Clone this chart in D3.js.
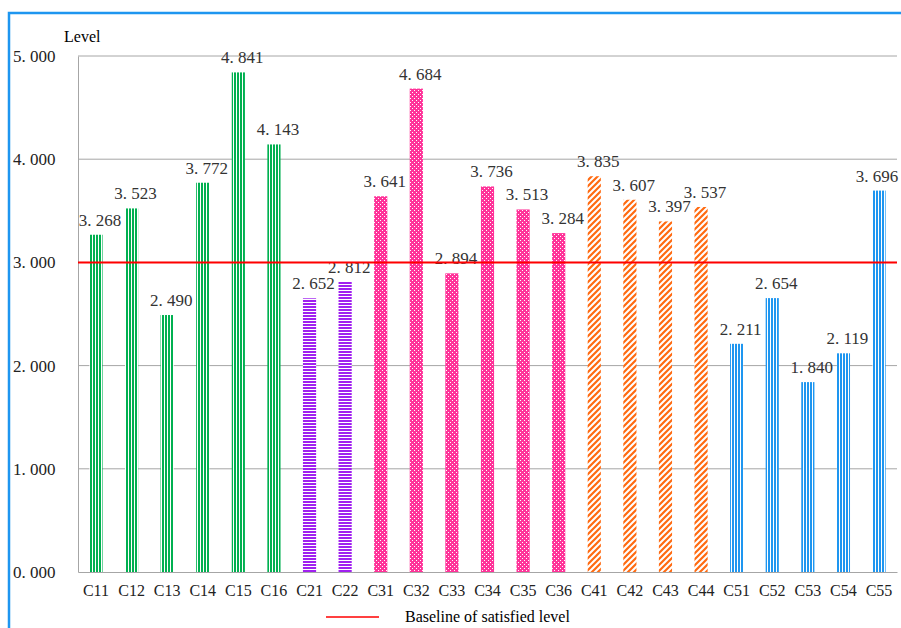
<!DOCTYPE html>
<html>
<head>
<meta charset="utf-8">
<script src="https://cdn.jsdelivr.net/npm/d3@7"></script>
<style>
  body { margin: 0; background: #fff; }
  svg { display: block; }
</style>
</head>
<body>
<svg id="chart" width="901" height="628"></svg>
<script>
// indicator codes and their levels
var categories = ["C11","C12","C13","C14","C15","C16","C21","C22","C31","C32","C33","C34","C35","C36","C41","C42","C43","C44","C51","C52","C53","C54","C55"];
var levels = [3.268,3.523,2.490,3.772,4.841,4.143,2.652,2.812,3.641,4.684,2.894,3.736,3.513,3.284,3.835,3.607,3.397,3.537,2.211,2.654,1.840,2.119,3.696];
var yTicks = [0,1,2,3,4,5];
var baseline = 3;
var legendLabel = "Baseline of satisfied level";

var width = 901, height = 628;
var margin = {left: 78, top: 56, right: 4, bottom: 56};

var svg = d3.select("#chart");
var defs = svg.append("defs");

// hatch pattern for each group, keyed by the first digit of the code
function addPattern(id, w, h, bg, draw) {
    var p = defs.append("pattern")
        .attr("id", id)
        .attr("patternUnits", "userSpaceOnUse")
        .attr("width", w).attr("height", h);
    p.append("rect").attr("width", w).attr("height", h).attr("fill", bg);
    draw(p);
}
addPattern("pat1", 3, 3, "#fff", function(p) {
    p.append("rect").attr("width", 2).attr("height", 3).attr("fill", "#00b050");
});
addPattern("pat2", 3, 3, "#fff", function(p) {
    p.append("rect").attr("width", 3).attr("height", 2).attr("fill", "#a020f0");
});
addPattern("pat3", 4, 4, "#ff3399", function(p) {
    p.append("rect").attr("x", 0).attr("y", 0).attr("width", 1).attr("height", 1).attr("fill", "#fff");
    p.append("rect").attr("x", 2).attr("y", 2).attr("width", 1).attr("height", 1).attr("fill", "#fff");
});
addPattern("pat4", 6, 6, "#fff", function(p) {
    p.append("path").attr("d", "M-1,7 L7,-1 M-4,4 L4,-4 M2,10 L10,2")
        .attr("stroke", "#ff6a10").attr("stroke-width", 2.2);
});
addPattern("pat5", 3, 3, "#fff", function(p) {
    p.append("rect").attr("width", 2).attr("height", 3).attr("fill", "#1e96f0");
});

// outer frame
svg.append("rect")
    .attr("x", 9).attr("y", 13)
    .attr("width", 920).attr("height", 640)
    .attr("fill", "none")
    .attr("stroke", "#1e96f0")
    .attr("stroke-width", 2.5);

var x = d3.scaleBand()
    .domain(categories)
    .range([margin.left, width - margin.right])
    .paddingInner(0.63)
    .paddingOuter(0.32);

var y = d3.scaleLinear()
    .domain([0, 5])
    .range([height - margin.bottom, margin.top]);

// gridlines
svg.append("g")
    .selectAll("line")
    .data(yTicks.filter(function(d) { return d > 0; }))
    .enter().append("line")
    .attr("x1", margin.left).attr("x2", width - margin.right)
    .attr("y1", function(d) { return y(d); })
    .attr("y2", function(d) { return y(d); })
    .attr("stroke", "#a6a6a6").attr("stroke-width", 1);

// axes
var yAxis = svg.append("g")
    .attr("transform", "translate(" + margin.left + ",0)")
    .call(d3.axisLeft(y).tickValues(yTicks).tickSize(0)
        .tickFormat(function(d) { return d3.format(".3f")(d).replace(".", ". "); }));
yAxis.select(".domain").attr("stroke", "#a6a6a6");
yAxis.selectAll("text")
    .attr("x", -65).attr("text-anchor", "start")
    .style("font-family", "'Liberation Serif'").style("font-size", "17px").attr("fill", "#222");

var xAxis = svg.append("g")
    .attr("transform", "translate(0," + y(0) + ")")
    .call(d3.axisBottom(x).tickSize(0).tickPadding(13));
xAxis.select(".domain").attr("stroke", "#a6a6a6");
xAxis.selectAll("text")
    .style("font-family", "'Liberation Serif'").style("font-size", "16px").attr("fill", "#222");

svg.append("text")
    .attr("x", 64).attr("y", 42)
    .style("font-family", "'Liberation Serif'").style("font-size", "16px")
    .text("Level");

// bars
svg.append("g")
    .selectAll("rect")
    .data(categories)
    .enter().append("rect")
    .attr("x", function(d) { return x(d); })
    .attr("y", function(d, i) { return y(levels[i]); })
    .attr("width", x.bandwidth())
    .attr("height", function(d, i) { return y(0) - y(levels[i]); })
    .attr("fill", function(d) { return "url(#pat" + d.charAt(1) + ")"; });

// value labels
svg.append("g")
    .selectAll("text")
    .data(categories)
    .enter().append("text")
    .attr("x", function(d, i) {
        var cx = x(d) + x.bandwidth() / 2 + 4;
        return Math.min(cx, width - 24);
    })
    .attr("y", function(d, i) { return y(levels[i]) - 9; })
    .attr("text-anchor", "middle")
    .style("font-family", "'Liberation Serif'").style("font-size", "17px").attr("fill", "#333")
    .text(function(d, i) { return d3.format(".3f")(levels[i]).replace(".", ". "); });

// baseline
svg.append("line")
    .attr("x1", margin.left).attr("x2", width - margin.right)
    .attr("y1", y(baseline)).attr("y2", y(baseline))
    .attr("stroke", "#ff0000").attr("stroke-width", 2);

// legend
svg.append("line")
    .attr("x1", 326).attr("x2", 379)
    .attr("y1", 617).attr("y2", 617)
    .attr("stroke", "#ff0000").attr("stroke-width", 1.5);
svg.append("text")
    .attr("x", 405).attr("y", 622)
    .style("font-family", "'Liberation Serif'").style("font-size", "16px")
    .text(legendLabel);
</script>
</body>
</html>
